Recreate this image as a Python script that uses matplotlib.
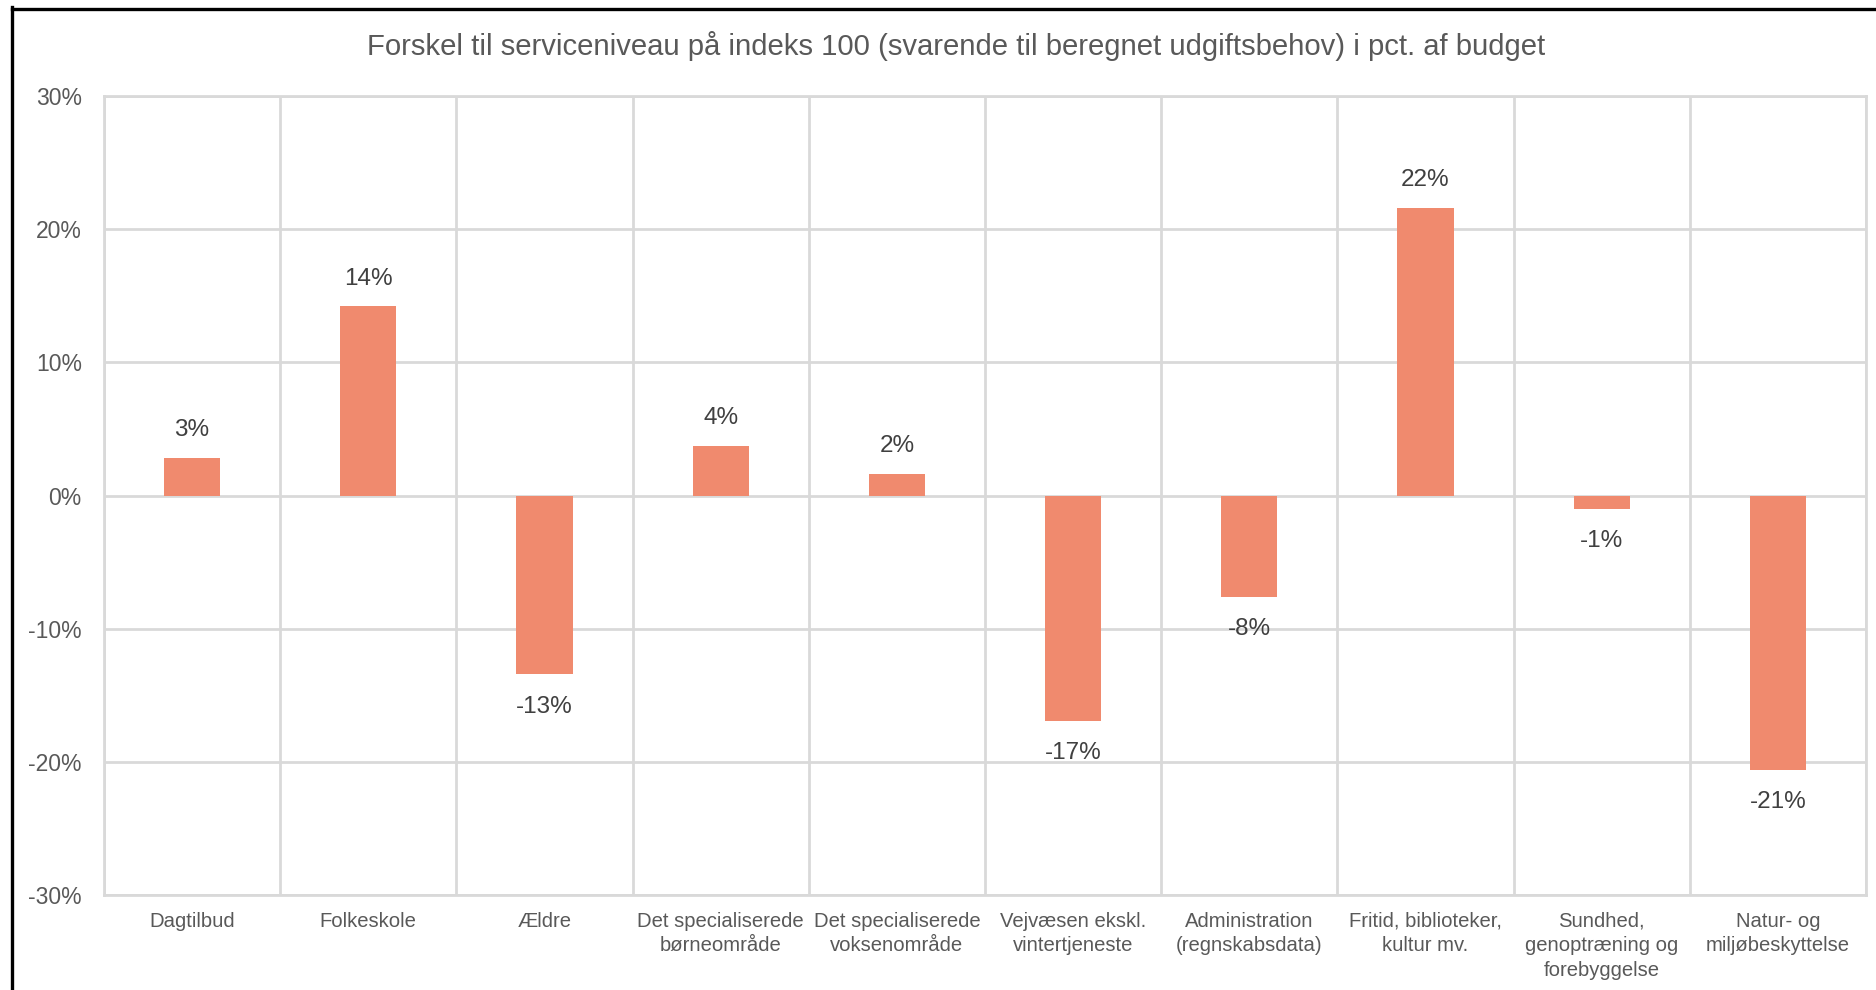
import numpy as np
import matplotlib.pyplot as plt
from matplotlib.lines import Line2D

plt.rcParams["font.family"] = ["Liberation Sans", "DejaVu Sans"]

# =========================
# DADOS
# =========================
kategorier = [
    "Dagtilbud",
    "Folkeskole",
    "Ældre",
    "Det specialiserede\nbørneområde",
    "Det specialiserede\nvoksenområde",
    "Vejvæsen ekskl.\nvintertjeneste",
    "Administration\n(regnskabsdata)",
    "Fritid, biblioteker,\nkultur mv.",
    "Sundhed,\ngenoptræning og\nforebyggelse",
    "Natur- og\nmiljøbeskyttelse",
]
forskel_pct = [2.8, 14.2, -13.4, 3.7, 1.6, -16.9, -7.6, 21.6, -1.0, -20.6]
y_ticks = [-30, -20, -10, 0, 10, 20, 30]

titel = "Forskel til serviceniveau på indeks 100 (svarende til beregnet udgiftsbehov) i pct. af budget"

BAR_COR = "#F08A6E"
GRID_COR = "#D9D9D9"
TICK_COR = "#595959"
LABEL_COR = "#404040"

# =========================
# FIGURA
# =========================
fig = plt.figure(figsize=(18.76, 9.90), dpi=100)
ax = fig.add_axes([104 / 1876, 1 - 895 / 990, (1866 - 104) / 1876, (895 - 96) / 990])

x = np.arange(len(kategorier))
ax.bar(x, forskel_pct, width=0.32, color=BAR_COR, zorder=3)

ax.set_xlim(-0.5, len(kategorier) - 0.5)
ax.set_ylim(-30, 30)
ax.set_yticks(y_ticks)
ax.set_yticklabels([f"{t}%" for t in y_ticks])
ax.set_xticks(x)
ax.set_xticklabels(kategorier, linespacing=1.38)
ax.set_xticks(np.arange(-0.5, len(kategorier), 1.0), minor=True)

ax.grid(axis="y", which="major", color=GRID_COR, linewidth=2, zorder=1)
ax.grid(axis="x", which="minor", color=GRID_COR, linewidth=2, zorder=1)
ax.grid(axis="x", which="major", visible=False)

ax.tick_params(axis="both", which="both", length=0)
ax.tick_params(axis="y", labelsize=16.5, labelcolor=TICK_COR, pad=16)
ax.tick_params(axis="x", labelsize=14.6, labelcolor=TICK_COR, pad=12)

for s in ax.spines.values():
    s.set_color(GRID_COR)
    s.set_linewidth(2)

# rótulos de dados
for xi, v in zip(x, forskel_pct):
    off = 20 if v >= 0 else -23.5
    ax.annotate(f"{v:.0f}%", (xi, v), xytext=(0, off), textcoords="offset points",
                ha="center", va="center", fontsize=17.5, color=LABEL_COR)

fig.text(956 / 1876, 1 - 46 / 990, titel, ha="center", va="center",
         fontsize=21.1, color=TICK_COR)

# moldura preta (recorte da tela)
fig.add_artist(Line2D([11.5 / 1876, 11.5 / 1876], [0, 1 - 7 / 990],
                      transform=fig.transFigure, color="black", linewidth=2.4))
fig.add_artist(Line2D([11.5 / 1876, 1], [1 - 8.5 / 990, 1 - 8.5 / 990],
                      transform=fig.transFigure, color="black", linewidth=2.4))

fig.savefig("out.png", dpi=100)
